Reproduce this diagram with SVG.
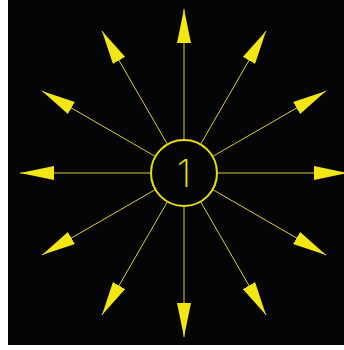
<svg xmlns="http://www.w3.org/2000/svg" width="344" height="350" viewBox="0 0 344 350">
<style>
.ray{stroke:#d6cf3a;stroke-width:1;marker-end:url(#ah)}
.node{fill:none;stroke:#e8de14;stroke-width:2}
.lbl{font-family:Inter,"Liberation Sans",Arial,sans-serif;font-weight:200;font-size:38px;fill:#e8de14;text-anchor:middle}
</style>
<defs>
<marker id="ah" viewBox="0 0 34 14" refX="34" refY="7" markerWidth="34" markerHeight="14" markerUnits="userSpaceOnUse" orient="auto">
<path d="M0,0 L34,7 L0,14 z" fill="#f2e614"/>
</marker>
</defs>
<rect x="0" y="0" width="344" height="350" fill="#ffffff"/>
<rect x="8" y="0" width="336" height="345" fill="#050505"/>
<g id="connectors">
<line class="ray" x1="217" y1="173" x2="348" y2="173"/>
<line class="ray" x1="212.58" y1="189.5" x2="326.03" y2="255"/>
<line class="ray" x1="200.5" y1="201.58" x2="266" y2="315.03"/>
<line class="ray" x1="184" y1="206" x2="184" y2="337"/>
<line class="ray" x1="167.5" y1="201.58" x2="102" y2="315.03"/>
<line class="ray" x1="155.42" y1="189.5" x2="41.97" y2="255"/>
<line class="ray" x1="151" y1="173" x2="20" y2="173"/>
<line class="ray" x1="155.42" y1="156.5" x2="41.97" y2="91"/>
<line class="ray" x1="167.5" y1="144.42" x2="102" y2="30.97"/>
<line class="ray" x1="184" y1="140" x2="184" y2="9"/>
<line class="ray" x1="200.5" y1="144.42" x2="266" y2="30.97"/>
<line class="ray" x1="212.58" y1="156.5" x2="326.03" y2="91"/>
</g>
<g id="node1">
<circle class="node" cx="184" cy="173" r="33"/>
<text class="lbl" x="184" y="187">1</text>
</g>
</svg>
